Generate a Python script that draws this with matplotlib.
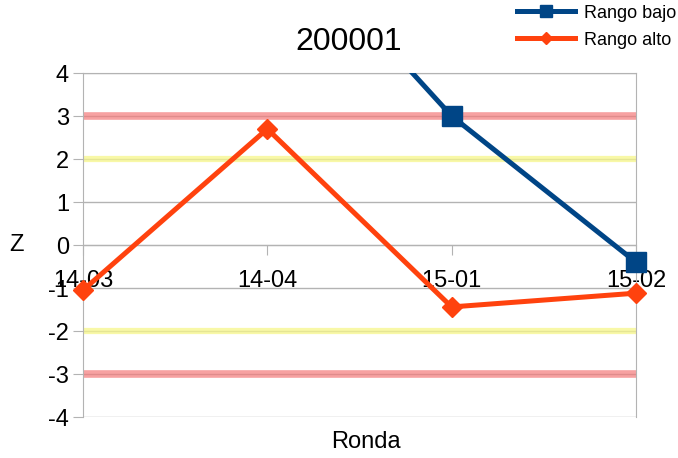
import numpy as np
import matplotlib.pyplot as plt
from matplotlib.lines import Line2D

plt.rcParams['font.family'] = ['Liberation Sans', 'DejaVu Sans']
plt.rcParams['axes.unicode_minus'] = False

rondas = ['14-03', '14-04', '15-01', '15-02']
rango_bajo = [np.nan, 7.7, 3.0, -0.4]
rango_alto = [-1.05, 2.7, -1.44, -1.12]

azul = '#004586'
naranja = '#ff420e'

fig = plt.figure(figsize=(6.78, 4.58), dpi=100)
ax = fig.add_axes([0.1224, 0.0895, 0.8156, 0.7511])

x = np.arange(len(rondas))
ymin, ymax = -4, 4

# bandas de referencia
for v in (3, -3):
    ax.axhline(v, color='#f47a7a', alpha=0.7, lw=5.5, zorder=2)
for v in (2, -2):
    ax.axhline(v, color='#f6f68a', alpha=0.75, lw=4.5, zorder=2)

# la línea se recorta en el área, los marcadores no
bajo = np.array(rango_bajo)
ax.plot(x, bajo, color=azul, lw=3.6, zorder=4)
visibles = np.where((bajo >= ymin) & (bajo <= ymax), bajo, np.nan)
ax.plot(x, visibles, color=azul, lw=0, marker='s', ms=14, zorder=5, clip_on=False)

ax.plot(x, rango_alto, color=naranja, lw=3.6, marker='D', ms=10, zorder=4, clip_on=False)

ax.set_xlim(0, 3)
ax.set_ylim(ymin, ymax)
ax.set_yticks(range(ymin, ymax + 1))
ax.set_xticks(x)
ax.set_xticklabels(rondas)
ax.grid(axis='y', color='#b3b3b3', lw=1, zorder=1)
ax.set_axisbelow(True)

ax.spines['bottom'].set_position(('data', 0))
for s in ax.spines.values():
    s.set_color('#b3b3b3')
ax.tick_params(axis='x', colors='#b3b3b3', labelcolor='black', labelsize=17,
               length=7, direction='out', pad=11)
ax.tick_params(axis='y', colors='#b3b3b3', labelcolor='black', labelsize=17,
               length=7, direction='out', pad=3)

fig.text(0.514, 0.908, '200001', ha='center', va='center', fontsize=23)
fig.text(0.540, 0.035, 'Ronda', ha='center', va='center', fontsize=17)
fig.text(0.024, 0.465, 'Z', ha='center', va='center', fontsize=17)

handles = [Line2D([], [], color=azul, lw=3.6, marker='s', ms=8),
           Line2D([], [], color=naranja, lw=3.6, marker='D', ms=6)]
fig.legend(handles, ['Rango bajo', 'Rango alto'], loc='upper left',
           bbox_to_anchor=(0.7625, 0.99), frameon=False, fontsize=13,
           handlelength=3.2, handletextpad=0.5, labelspacing=0.55,
           borderaxespad=0, borderpad=0)

fig.savefig('out.png', dpi=100)
